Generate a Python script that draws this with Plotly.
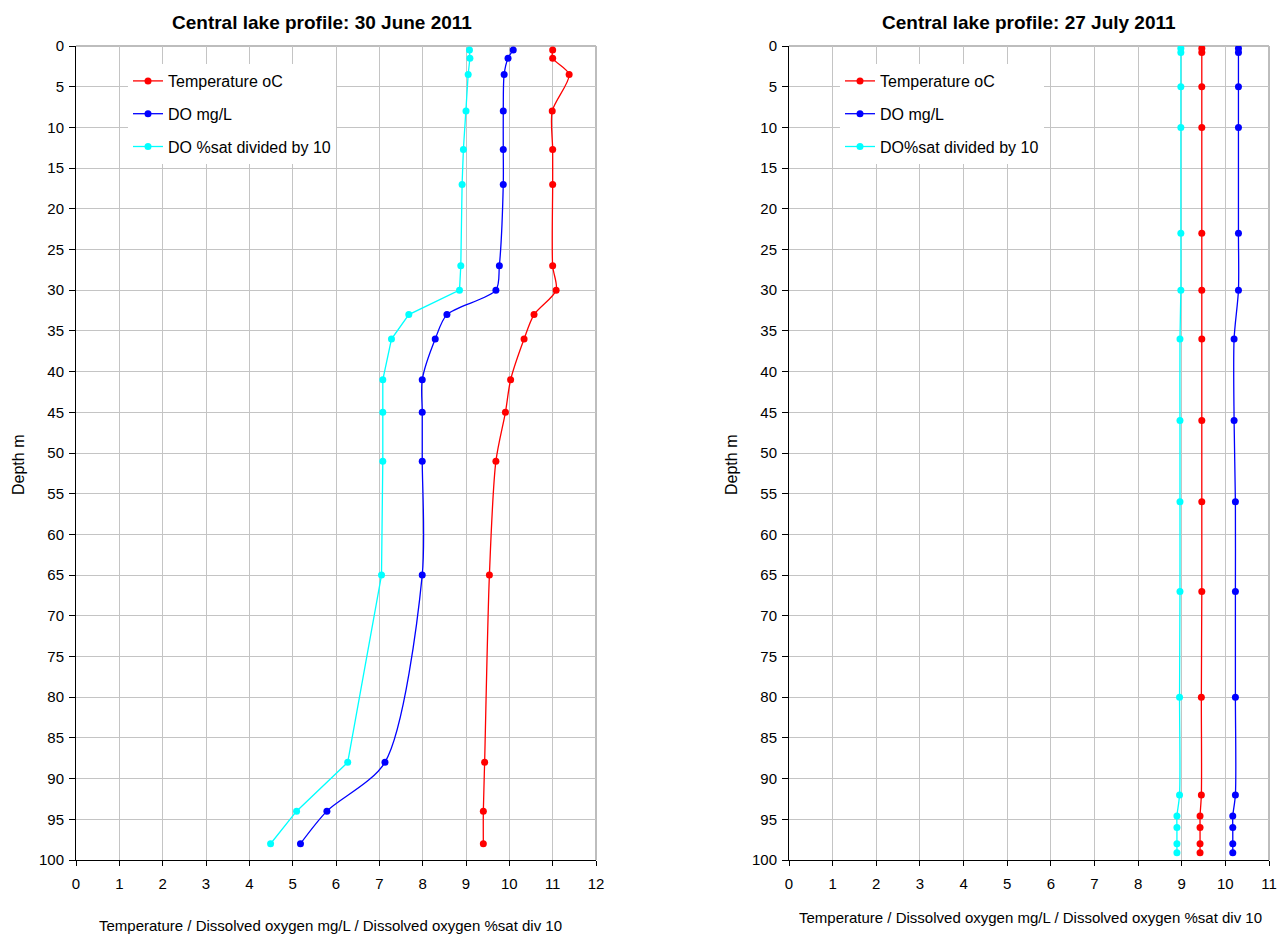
import plotly.graph_objects as go

# ---- Data: 30 June 2011 ----
depth_jun = [0.5, 1.5, 3.5, 8, 12.7, 17, 27, 30, 33, 36, 41, 45, 51, 65, 88, 94, 98]
temp_jun = [11.0, 11.0, 11.38, 10.99, 11.0, 11.0, 11.0, 11.08, 10.57, 10.34, 10.03, 9.91, 9.69, 9.54, 9.43, 9.40, 9.40]
do_jun = [10.09, 9.97, 9.88, 9.86, 9.86, 9.86, 9.77, 9.69, 8.56, 8.29, 7.99, 7.99, 7.99, 7.99, 7.13, 5.79, 5.18]
dosat_jun = [9.08, 9.09, 9.05, 9.0, 8.94, 8.91, 8.88, 8.85, 7.68, 7.28, 7.08, 7.08, 7.08, 7.05, 6.27, 5.09, 4.49]

# ---- Data: 27 July 2011 ----
depth_jul = [0.3, 0.8, 5, 10, 23, 30, 36, 46, 56, 67, 80, 92, 94.6, 96, 98, 99.1]
temp_jul = [9.46, 9.46, 9.46, 9.46, 9.46, 9.46, 9.46, 9.46, 9.46, 9.46, 9.45, 9.45, 9.42, 9.42, 9.42, 9.42]
do_jul = [10.30, 10.30, 10.30, 10.30, 10.30, 10.30, 10.20, 10.20, 10.23, 10.23, 10.23, 10.23, 10.17, 10.17, 10.17, 10.17]
dosat_jul = [8.98, 8.98, 8.98, 8.98, 8.98, 8.98, 8.96, 8.96, 8.96, 8.96, 8.95, 8.95, 8.89, 8.89, 8.89, 8.89]

titles = ["Central lake profile: 30 June 2011", "Central lake profile: 27 July 2011"]
xtitle = "Temperature / Dissolved oxygen mg/L / Dissolved oxygen %sat div 10"
names_jun = ["Temperature oC", "DO mg/L", "DO %sat divided by 10"]
names_jul = ["Temperature oC", "DO mg/L", "DO%sat divided by 10"]

RED, BLUE, CYAN = "#FF0000", "#0000FF", "#00FFFF"
FONT = "Liberation Sans, Arial, sans-serif"

W, H = 1279, 937
fig = go.Figure()

def add_series(xs, ys, name, color, xa, ya, legend, group, shape):
    fig.add_trace(go.Scatter(
        x=xs, y=ys, name=name, mode="lines+markers",
        line=dict(color=color, width=1.3, shape=shape, smoothing=0.8),
        marker=dict(color=color, size=7),
        xaxis=xa, yaxis=ya, legend=legend, legendgroup=group,
    ))

add_series(temp_jun, depth_jun, names_jun[0], RED, "x", "y", "legend", "a1", "spline")
add_series(do_jun, depth_jun, names_jun[1], BLUE, "x", "y", "legend", "a2", "spline")
add_series(dosat_jun, depth_jun, names_jun[2], CYAN, "x", "y", "legend", "a3", "linear")
add_series(temp_jul, depth_jul, names_jul[0], RED, "x2", "y2", "legend2", "b1", "spline")
add_series(do_jul, depth_jul, names_jul[1], BLUE, "x2", "y2", "legend2", "b2", "spline")
add_series(dosat_jul, depth_jul, names_jul[2], CYAN, "x2", "y2", "legend2", "b3", "spline")

# plot-area pixel boxes
L1 = (76, 596); L2 = (789, 1269); TOP, BOT = 46, 860
def fx(px): return px / W
def fy(py): return 1 - py / H

grid = "#C4C4C4"
common_x = dict(showgrid=True, gridcolor=grid, gridwidth=1, showline=True, linecolor="black",
                linewidth=1, ticks="outside", ticklen=5, tickcolor="black", dtick=1,
                tickfont=dict(family=FONT, size=15, color="black"), zeroline=False,
                automargin=False, ticklabelstandoff=5)
common_y = dict(showgrid=True, gridcolor=grid, gridwidth=1, showline=True, linecolor="black",
                linewidth=1, ticks="outside", ticklen=6, tickcolor="black", dtick=5,
                range=[100, 0], tickfont=dict(family=FONT, size=15, color="black"), zeroline=False,
                automargin=False, ticklabelstandoff=2)

fig.update_layout(
    width=W, height=H, margin=dict(l=0, r=0, t=0, b=0, autoexpand=False),
    paper_bgcolor="white", plot_bgcolor="white",
    font=dict(family=FONT, color="black"),
    xaxis=dict(common_x, domain=[fx(L1[0]), fx(L1[1])], range=[0, 12], anchor="y"),
    yaxis=dict(common_y, domain=[fy(BOT), fy(TOP)], anchor="x"),
    xaxis2=dict(common_x, domain=[fx(L2[0]), fx(L2[1])], range=[0, 11], anchor="y2"),
    yaxis2=dict(common_y, domain=[fy(BOT), fy(TOP)], anchor="x2"),
    legend=dict(x=fx(128), y=fy(64), xanchor="left", yanchor="top", bgcolor="white",
                font=dict(family=FONT, size=16, color="black"), tracegroupgap=9,
                itemwidth=30),
    legend2=dict(x=fx(840), y=fy(64), xanchor="left", yanchor="top", bgcolor="white",
                 font=dict(family=FONT, size=16, color="black"), tracegroupgap=9,
                 itemwidth=30),
    showlegend=True,
)

# gray top/right borders
for (x0, x1) in (L1, L2):
    fig.add_shape(type="line", xref="paper", yref="paper", x0=fx(x0), x1=fx(x1), y0=fy(TOP), y1=fy(TOP),
                  line=dict(color="#BDBDBD", width=2), layer="below")
    fig.add_shape(type="line", xref="paper", yref="paper", x0=fx(x1), x1=fx(x1), y0=fy(TOP), y1=fy(BOT),
                  line=dict(color="#BDBDBD", width=2), layer="below")

# titles and axis titles
ann = []
ann.append(dict(text="<b>" + titles[0] + "</b>", x=fx(322), y=fy(22), size=19))
ann.append(dict(text="<b>" + titles[1] + "</b>", x=fx(1029), y=fy(22), size=19))
ann.append(dict(text=xtitle, x=fx(330), y=fy(925), size=15))
ann.append(dict(text=xtitle, x=fx(1030), y=fy(917), size=15))
ann.append(dict(text="Depth m", x=fx(18), y=fy(465), textangle=-90, size=16))
ann.append(dict(text="Depth m", x=fx(731), y=fy(465), textangle=-90, size=16))
for a in ann:
    fig.add_annotation(xref="paper", yref="paper", showarrow=False, xanchor="center", yanchor="middle",
                       text=a["text"], x=a["x"], y=a["y"], textangle=a.get("textangle", 0),
                       font=dict(family=FONT, color="black", size=a["size"]))

fig.write_html("out.html", config={"displayModeBar": False},
               post_script="document.body.style.margin='0';document.body.style.overflow='hidden';")
